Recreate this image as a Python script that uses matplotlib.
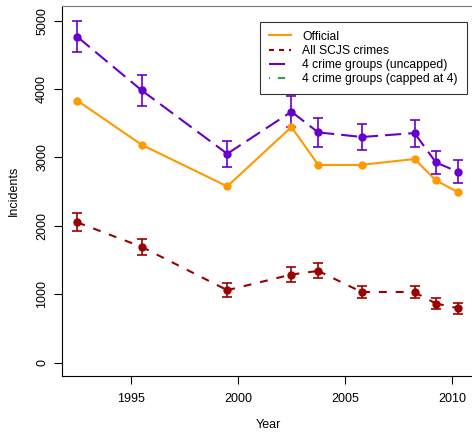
import matplotlib
matplotlib.use('Agg')
import matplotlib.pyplot as plt
import numpy as np
from matplotlib.lines import Line2D

plt.rcParams['font.family'] = ['Liberation Sans', 'DejaVu Sans']
plt.rcParams['font.size'] = 9

# survey years (mid points)
years = [1992.5, 1995.5, 1999.5, 2002.5, 2003.75, 2005.8, 2008.25, 2009.25, 2010.3]

# Official recorded incidents
official = [3830, 3186, 2577, 3445, 2893, 2893, 2977, 2665, 2489]

# All SCJS crimes
scjs = [2050, 1693, 1059, 1288, 1341, 1029, 1029, 864, 795]
scjs_lo = [1922, 1571, 966, 1176, 1230, 941, 941, 785, 717]
scjs_hi = [2181, 1805, 1157, 1400, 1454, 1117, 1117, 941, 873]

# 4 crime groups (uncapped)
unc = [4763, 3982, 3054, 3669, 3367, 3299, 3357, 2928, 2786]
unc_lo = [4539, 3753, 2864, 3445, 3152, 3108, 3157, 2757, 2625]
unc_hi = [5000, 4211, 3244, 3903, 3581, 3485, 3547, 3098, 2962]

orange = '#FF9900'
red = '#9B0000'
purple = '#6600CC'
green = '#2E9E5B'

LW = 1.5
RED_DASH = (3.8, 4.3)
PURPLE_DASH = (7.7, 3.4)
GREEN_DASH = (0.5, 3.8, 3.4, 3.8)


def series(ax, x, y, color, dashes=None, lo=None, hi=None):
    # draw each segment on its own so the dash pattern restarts, like R type="b"
    for i in range(len(x) - 1):
        kw = dict(color=color, lw=LW, solid_capstyle='butt')
        if dashes:
            kw['dashes'] = dashes
        ax.plot(x[i:i + 2], y[i:i + 2], **kw)
    if lo is not None:
        yy = np.array(y)
        ax.errorbar(x, y, yerr=[yy - np.array(lo), np.array(hi) - yy], fmt='none',
                    ecolor=color, elinewidth=1.2, capsize=3.5, capthick=1.2)
    ax.plot(x, y, 'o', color=color, ms=5, zorder=3)


fig = plt.figure(figsize=(4.72, 4.32), dpi=100)
ax = fig.add_axes([62/472, 1 - 376/432, (474-62)/472, (376-6)/432])

series(ax, years, official, orange)
series(ax, years, scjs, red, dashes=RED_DASH, lo=scjs_lo, hi=scjs_hi)
series(ax, years, unc, purple, dashes=PURPLE_DASH, lo=unc_lo, hi=unc_hi)

ax.set_xlim(1991.78, 2011.03)
ax.set_ylim(-196, 5215)
ax.set_xticks([1995, 2000, 2005, 2010])
ax.set_yticks([0, 1000, 2000, 3000, 4000, 5000])
ax.tick_params(axis='y', labelrotation=90, length=6, pad=4)
ax.tick_params(axis='x', length=6, pad=6)
for t in ax.get_yticklabels():
    t.set_va('center')
ax.spines['top'].set_color('#777777')
ax.spines['right'].set_visible(False)
ax.set_xlabel('Year', labelpad=10)
ax.set_ylabel('Incidents', labelpad=12)

handles = [
    Line2D([], [], color=orange, lw=LW),
    Line2D([], [], color=red, lw=LW, dashes=(2.4, 2.4)),
    Line2D([], [], color=purple, lw=LW, dashes=PURPLE_DASH),
    Line2D([], [], color=green, lw=LW, dashes=GREEN_DASH),
]
labels = ['Official', 'All SCJS crimes', '4 crime groups (uncapped)',
          '4 crime groups (capped at 4)']
leg = fig.legend(handles, labels, loc='upper left', fontsize=8.7,
                 bbox_to_anchor=(260/472, 1 - 22/432), bbox_transform=fig.transFigure,
                 borderaxespad=0, frameon=True, fancybox=False, edgecolor='black',
                 handlelength=1.86, handletextpad=0.93, labelspacing=0.18,
                 borderpad=0.72)
leg.get_frame().set_linewidth(0.8)

fig.savefig('out.png', dpi=100)
